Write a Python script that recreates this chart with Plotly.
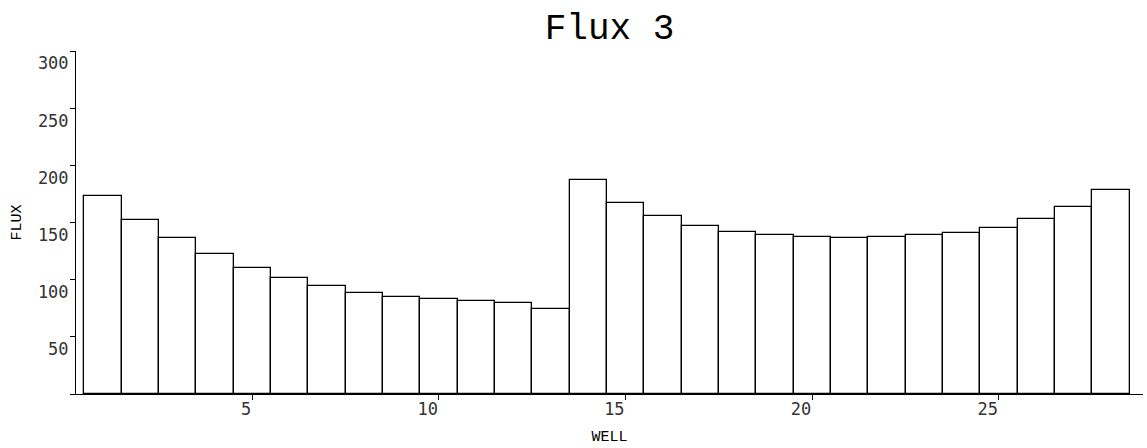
import plotly.graph_objects as go

# Flux per well
wells = list(range(1, 29))
flux = [173.5, 152.2, 136.2, 122.2, 110.2, 101.2, 94.2, 88.6, 85.2, 82.9,
        81.1, 79.9, 74.4, 187.5, 167.4, 155.7, 147.3, 141.7, 138.9, 137.1,
        136.5, 137.1, 138.8, 140.6, 145.0, 152.8, 163.3, 178.5]

x_ticks = [5, 10, 15, 20, 25]
y_ticks = [0, 50, 100, 150, 200, 250, 300]
y_tick_text = ["", "50", "100", "150", "200", "250", "300"]

mono_serif = "Liberation Mono, Courier New, monospace"
mono_sans = "DejaVu Sans Mono, monospace"

fig = go.Figure(
    go.Bar(
        x=wells,
        y=flux,
        width=1,
        marker=dict(color="white", line=dict(color="black", width=1.3)),
        hoverinfo="x+y",
    )
)

fig.update_layout(
    width=1147,
    height=448,
    margin=dict(l=76, r=4, t=51, b=54),
    plot_bgcolor="white",
    paper_bgcolor="white",
    showlegend=False,
    bargap=0,
    title=dict(
        text="Flux 3",
        font=dict(family=mono_serif, size=36, color="black"),
        x=0.5,
        xref="paper",
        xanchor="center",
        y=0.94,
        yref="container",
        yanchor="middle",
    ),
)

fig.update_xaxes(
    range=[0.277, 28.86],
    tickvals=x_ticks,
    ticks="outside",
    ticklen=5,
    tickcolor="black",
    ticklabelposition="outside left",
    showline=True,
    linecolor="black",
    linewidth=1,
    showgrid=False,
    zeroline=False,
    tickfont=dict(family=mono_sans, size=17, color="#333"),
    title=dict(text="WELL", font=dict(family=mono_serif, size=15, color="black"), standoff=12),
)

fig.update_yaxes(
    range=[0, 300],
    tickvals=y_ticks,
    ticktext=y_tick_text,
    ticks="outside",
    ticklen=5,
    tickcolor="black",
    ticklabelposition="outside bottom",
    ticklabelstandoff=3,
    showline=True,
    linecolor="black",
    linewidth=1,
    showgrid=False,
    zeroline=False,
    tickfont=dict(family=mono_sans, size=17, color="#333"),
    title=dict(text="FLUX", font=dict(family=mono_serif, size=15, color="black"), standoff=12),
)

fig.write_html("out.html")
